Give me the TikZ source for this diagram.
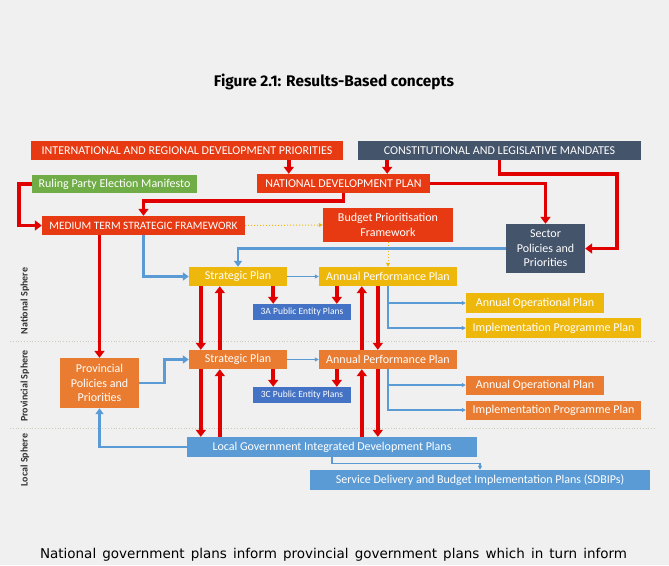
\documentclass[tikz,border=0pt]{standalone}
\usepackage{fontspec}
\setmainfont{Carlito}
\newfontfamily\titlefont{Fira Sans}
\newfontfamily\capfont{DejaVu Sans}
\usetikzlibrary{arrows.meta}

\definecolor{pageGrey}{HTML}{F0F0F0}
\definecolor{boxRed}{HTML}{E73A12}
\definecolor{lineRed}{HTML}{E00000}
\definecolor{slate}{HTML}{44546A}
\definecolor{leafGreen}{HTML}{70AD47}
\definecolor{gold}{HTML}{EEB70C}
\definecolor{tangerine}{HTML}{E97C30}
\definecolor{royal}{HTML}{4472C4}
\definecolor{sky}{HTML}{5B9BD5}
\definecolor{divider}{HTML}{CFC8BC}

\tikzset{
    plan/.style={rectangle, fill=#1, text=white, inner sep=0pt, align=center,
        font=\fontsize{12}{14.5}\selectfont},
    redflow/.style={draw=lineRed, line width=3.8pt, -{Triangle[width=10pt,length=7pt]}},
    blueflow/.style={draw=sky, line width=2.6pt, -{Triangle[width=8pt,length=6pt]}},
    thinflow/.style={draw=sky, line width=1.1pt, -{Triangle[width=4pt,length=4pt]}},
    hintflow/.style={draw=gold, line width=1pt, dotted, -{Triangle[width=4pt,length=4pt]}},
    sphere/.style={rotate=90, text=black!80, font=\bfseries\fontsize{10}{11}\selectfont}
}

\begin{document}
\begin{tikzpicture}[x=1pt,y=-1pt]
    \fill[pageGrey] (0,0) rectangle (669,565);
    \useasboundingbox (0,0) rectangle (669,565);

    \node (title) at (334,82) {\titlefont\bfseries\fontsize{15.4}{17}\selectfont Figure 2.1: Results-Based concepts};

    % Sphere dividers
    \draw[divider, dotted, line width=0.8pt] (10,341) -- (655,341);
    \draw[divider, dotted, line width=0.8pt] (10,428) -- (655,428);
    \node (natsph) [sphere] at (25,301) {National Sphere};
    \node (provsph) [sphere] at (25,386) {Provincial Sphere};
    \node (locsph) [sphere] at (25,460) {Local Sphere};

    % Top level
    \node (intl) [plan=boxRed, minimum width=312pt, minimum height=19pt] at (187,150.5) {INTERNATIONAL AND REGIONAL DEVELOPMENT PRIORITIES};
    \node (const) [plan=slate, minimum width=283pt, minimum height=19pt] at (499.5,150.5) {CONSTITUTIONAL AND LEGISLATIVE MANDATES};
    \node (ndp) [plan=boxRed, minimum width=173pt, minimum height=19pt] at (343.5,183.5) {NATIONAL DEVELOPMENT PLAN};
    \node (rpem) [plan=leafGreen, minimum width=165pt, minimum height=18pt] at (114.5,184) {Ruling Party Election Manifesto};
    \node (mtsf) [plan=boxRed, minimum width=203pt, minimum height=19pt, font=\fontsize{11.3}{13}\selectfont] at (143.5,225.5) {MEDIUM TERM STRATEGIC FRAMEWORK};
    \node (bpf) [plan=boxRed, minimum width=130pt, minimum height=34pt] at (388,225) {Budget Prioritisation\\Framework};
    \node (sector) [plan=slate, minimum width=79pt, minimum height=49pt] at (545.5,248.5) {Sector\\Policies and\\Priorities};

    % National sphere
    \node (nsp) [plan=gold, minimum width=98pt, minimum height=19pt] at (238,276.5) {Strategic Plan};
    \node (napp) [plan=gold, minimum width=138pt, minimum height=19pt] at (388,276.5) {Annual Performance Plan};
    \node (pe3a) [plan=royal, minimum width=98pt, minimum height=16pt, font=\fontsize{9.5}{10}\selectfont] at (302,312) {3A Public Entity Plans};
    \node (naop) [plan=gold, minimum width=138pt, minimum height=20pt] at (535,303) {Annual Operational Plan};
    \node (nipp) [plan=gold, minimum width=175pt, minimum height=20pt] at (553.5,328) {Implementation Programme Plan};

    % Provincial sphere
    \node (ppp) [plan=tangerine, minimum width=79pt, minimum height=50pt] at (99.5,383) {Provincial\\Policies and\\Priorities};
    \node (psp) [plan=tangerine, minimum width=98pt, minimum height=19pt] at (238,359.5) {Strategic Plan};
    \node (papp) [plan=tangerine, minimum width=138pt, minimum height=19pt] at (388,359.5) {Annual Performance Plan};
    \node (pe3c) [plan=royal, minimum width=98pt, minimum height=16pt, font=\fontsize{9.5}{10}\selectfont] at (302,395) {3C Public Entity Plans};
    \node (paop) [plan=tangerine, minimum width=138pt, minimum height=19pt] at (535,385) {Annual Operational Plan};
    \node (pipp) [plan=tangerine, minimum width=175pt, minimum height=19pt] at (553.5,410) {Implementation Programme Plan};

    % Local sphere
    \node (lgidp) [plan=sky, minimum width=290pt, minimum height=20pt] at (332,447) {Local Government Integrated Development Plans};
    \node (sdbip) [plan=sky, minimum width=340pt, minimum height=20pt] at (480,480) {Service Delivery and Budget Implementation Plans (SDBIPs)};

    \node (caption) at (333.5,555) {\capfont\fontsize{13.5}{15}\selectfont\makebox[587pt][s]{National government plans inform provincial government plans which in turn inform}};

    % Mandates and priorities
    \draw[redflow] ([xshift=32pt]ndp.north west |- intl.south) -- ([xshift=32pt]ndp.north west);
    \draw[redflow] ([xshift=-43pt]ndp.north east |- const.south) -- ([xshift=-43pt]ndp.north east);
    \draw[redflow] (ndp.south) -- ++(0,8) -| (mtsf.north);
    \draw[redflow] (ndp.east) -| (sector.north);
    \draw[redflow] (const.south) -- ++(0,14) -| ([xshift=32pt]sector.east) -- (sector.east);
    \draw[redflow] (rpem.west) -- ++(-13,0) |- (mtsf.west);
    \draw[redflow] (mtsf.south -| ppp.north) -- (ppp.north);
    \draw[hintflow] (mtsf.east) -- (bpf.west);
    \draw[hintflow] (bpf.south) -- (napp.north);

    % Feeds into strategic plans
    \draw[blueflow] (sector.west) -- (sector.west -| nsp.north) -- (nsp.north);
    \draw[blueflow] (mtsf.south) |- (nsp.west);
    \draw[blueflow] (ppp.east) -- ([xshift=25pt]ppp.east) |- (psp.west);
    \draw[blueflow] (lgidp.west) -| (ppp.south);

    % Plan chain
    \draw[thinflow] (nsp.east) -- (napp.west);
    \draw[thinflow] (psp.east) -- (papp.west);
    \draw[thinflow] (napp.south) |- (naop.west);
    \draw[thinflow] (napp.south) |- (nipp.west);
    \draw[thinflow] (papp.south) |- (paop.west);
    \draw[thinflow] (papp.south) |- (pipp.west);
    \draw[thinflow] (lgidp.south) -- ++(0,6) -| (sdbip.north);

    % Public entities
    \draw[redflow] ([xshift=-14pt]nsp.south east) -- ([xshift=-14pt]nsp.south east |- pe3a.north);
    \draw[redflow] ([xshift=18pt]napp.south west) -- ([xshift=18pt]napp.south west |- pe3a.north);
    \draw[redflow] ([xshift=-14pt]psp.south east) -- ([xshift=-14pt]psp.south east |- pe3c.north);
    \draw[redflow] ([xshift=18pt]papp.south west) -- ([xshift=18pt]papp.south west |- pe3c.north);

    % Between spheres
    \draw[redflow] ([xshift=12pt]nsp.south west) -- ([xshift=12pt]psp.north west);
    \draw[redflow] ([xshift=31pt]psp.north west) -- ([xshift=31pt]nsp.south west);
    \draw[redflow] ([xshift=59pt]napp.south west) -- ([xshift=59pt]papp.north west);
    \draw[redflow] ([xshift=43pt]papp.north west) -- ([xshift=43pt]napp.south west);
    \draw[redflow] ([xshift=12pt]psp.south west) -- ([xshift=12pt]psp.south west |- lgidp.north);
    \draw[redflow] ([xshift=31pt]psp.south west |- lgidp.north) -- ([xshift=31pt]psp.south west);
    \draw[redflow] ([xshift=59pt]papp.south west) -- ([xshift=59pt]papp.south west |- lgidp.north);
    \draw[redflow] ([xshift=43pt]papp.south west |- lgidp.north) -- ([xshift=43pt]papp.south west);
\end{tikzpicture}
\end{document}
